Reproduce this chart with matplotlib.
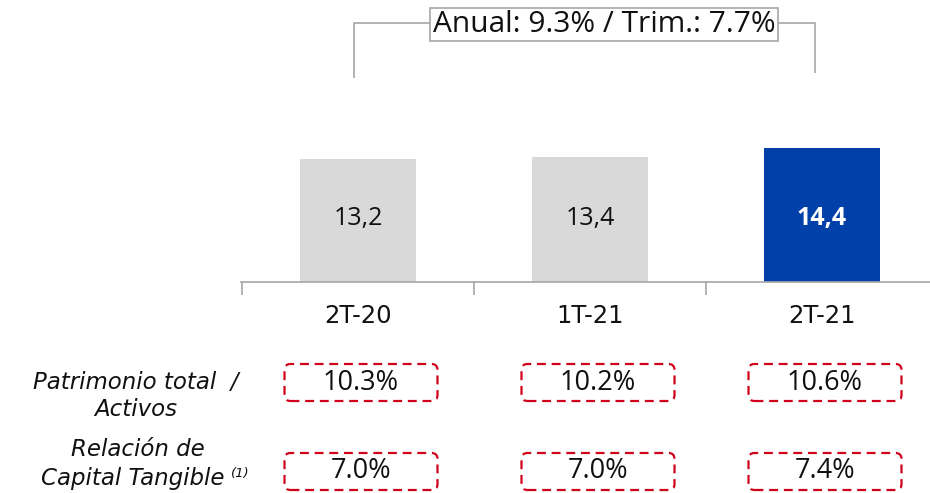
import matplotlib
matplotlib.use("Agg")
import matplotlib.pyplot as plt
from matplotlib.patches import FancyBboxPatch

# ---- data ----
categories = ["2T-20", "1T-21", "2T-21"]
values = [13.2, 13.4, 14.4]
value_labels = ["13,2", "13,4", "14,4"]
row1_label = "Patrimonio total  /\nActivos"
row2_label_top = "Relación de"
row2_label_bottom = "Capital Tangible"
row2_note = "(1)"
row1_values = ["10.3%", "10.2%", "10.6%"]
row2_values = ["7.0%", "7.0%", "7.4%"]
growth_text = "Anual: 9.3% / Trim.: 7.7%"

# ---- style ----
FONT = "Open Sans"
FONT_WIDE = "DejaVu Sans"
GRAY_BAR = "#d9d9d9"
BLUE_BAR = "#0040a8"
RED = "#d0021b"
LINE_GRAY = "#a6a6a6"
TXT = "#111111"

W, H = 930, 493
fig = plt.figure(figsize=(W / 100, H / 100), dpi=100)
ax = fig.add_axes([0, 0, 1, 1])

# pixel-based layout: category spacing 232px, first center at x=358, baseline at y=282
px_per_cat = 232.0
x0_px = 358.0
base_px = 282.0
px_per_unit = 9.32


def X(px):
    return (px - x0_px) / px_per_cat


def Y(py):
    return (base_px - py) / px_per_unit


ax.set_xlim(X(0), X(W))
ax.set_ylim(Y(H), Y(0))

for s in ["top", "right", "left"]:
    ax.spines[s].set_visible(False)
ax.spines["bottom"].set_position(("data", 0))
ax.spines["bottom"].set_color(LINE_GRAY)
ax.spines["bottom"].set_linewidth(1.2)
ax.spines["bottom"].set_bounds(-0.505, 3)
ax.set_yticks([])

x = list(range(len(categories)))
colors = [GRAY_BAR, GRAY_BAR, BLUE_BAR]
ax.bar(x, values, width=0.5, color=colors, zorder=2)

ax.set_xticks(x)
ax.set_xticklabels(categories, fontfamily=FONT_WIDE, fontsize=17.5, color=TXT)
ax.tick_params(axis="x", which="major", length=0, pad=16)
ax.set_xticks([-0.5, 0.5, 1.5], minor=True)
ax.tick_params(axis="x", which="minor", length=9, width=1.2, color=LINE_GRAY, direction="out")

for xi, v, lab, c in zip(x, values, value_labels, colors):
    bold = c == BLUE_BAR
    ax.text(xi, Y(218), lab, ha="center", va="center",
            fontfamily=FONT, fontsize=18, color="white" if bold else TXT,
            fontweight="bold" if bold else "normal", zorder=3)

# ---- growth bracket ----
yb_top = Y(23)
lx = x[0] - 4 / px_per_cat
rx = x[2] - 7 / px_per_cat
ax.plot([lx, lx, rx, rx], [Y(78), yb_top, yb_top, Y(73)],
        color=LINE_GRAY, lw=1.2, zorder=1, solid_capstyle="butt")
ax.text(X(604), Y(24.5), growth_text, ha="center", va="center",
        fontfamily=FONT, fontsize=21.5, color=TXT, zorder=4,
        bbox=dict(boxstyle="square,pad=0.08", fc="white", ec=LINE_GRAY, lw=1.2))

# ---- table rows ----
box_w = 153 / px_per_cat
box_h = 37 / px_per_unit
col_off = [3 / px_per_cat, 8 / px_per_cat, 3 / px_per_cat]
aspect = px_per_cat / px_per_unit
rows_y = [Y(382.5), Y(471.5)]
for ry, vals in zip(rows_y, [row1_values, row2_values]):
    for xi, off, val in zip(x, col_off, vals):
        cx = xi + off
        p = FancyBboxPatch((cx - box_w / 2, ry - box_h / 2), box_w, box_h,
                           boxstyle="round,pad=0,rounding_size=%f" % (6 / px_per_cat),
                           mutation_aspect=aspect, fill=False, ec=RED, lw=1.6,
                           ls=(0, (4, 2.6)), clip_on=False)
        ax.add_patch(p)
        ax.text(cx, ry, val, ha="center", va="center", fontfamily=FONT,
                fontsize=19.5, color=TXT)

LAB_FS = 16.5
ax.text(X(136), Y(396), row1_label, ha="center", va="center",
        fontfamily=FONT_WIDE, fontstyle="italic", fontsize=LAB_FS, color=TXT,
        linespacing=1.2)
ax.text(X(138), Y(450), row2_label_top, ha="center", va="center",
        fontfamily=FONT_WIDE, fontstyle="italic", fontsize=LAB_FS, color=TXT)
ax.text(X(224), Y(478), row2_label_bottom, ha="right", va="center",
        fontfamily=FONT_WIDE, fontstyle="italic", fontsize=LAB_FS, color=TXT)
ax.text(X(231), Y(473), row2_note, ha="left", va="center", fontfamily=FONT_WIDE,
        fontstyle="italic", fontsize=9.5, color=TXT)

fig.savefig("out.png", dpi=100)
